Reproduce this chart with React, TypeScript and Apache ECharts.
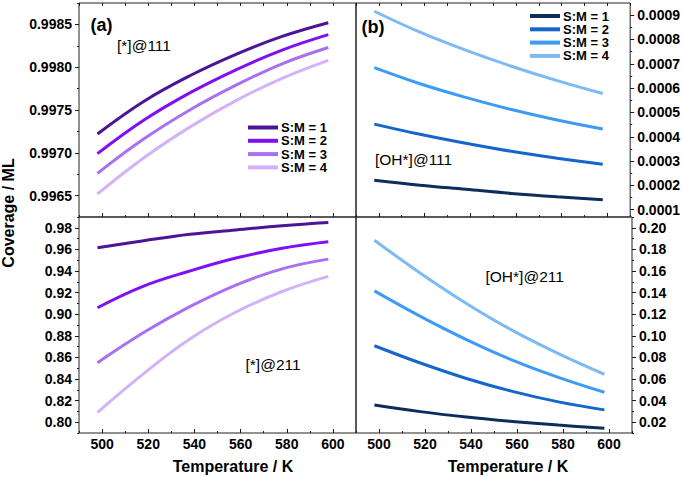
import React, { useEffect, useRef } from "react";
import * as echarts from "echarts";

const temps = [498, 518, 538, 558, 578, 598];
const seriesNames = ["S:M = 1", "S:M = 2", "S:M = 3", "S:M = 4"];

// (a) top: [*]@111
const star111 = [
  [0.99722, 0.9976, 0.9979, 0.99815, 0.99836, 0.99852],
  [0.99699, 0.99738, 0.9977, 0.99797, 0.9982, 0.99838],
  [0.99676, 0.99716, 0.9975, 0.99779, 0.99804, 0.99823],
  [0.99652, 0.99694, 0.9973, 0.99761, 0.99787, 0.99808],
];
// (a) bottom: [*]@211
const star211 = [
  [0.9615, 0.968, 0.974, 0.978, 0.982, 0.985],
  [0.906, 0.926, 0.94, 0.952, 0.961, 0.967],
  [0.855, 0.883, 0.907, 0.927, 0.942, 0.951],
  [0.809, 0.845, 0.877, 0.902, 0.921, 0.935],
];
// (b) top: [OH*]@111
const oh111 = [
  [0.000221, 0.000201, 0.000184, 0.000167, 0.000153, 0.000141],
  [0.000452, 0.00041, 0.000373, 0.00034, 0.000312, 0.000287],
  [0.000684, 0.000618, 0.000562, 0.000512, 0.000469, 0.000432],
  [0.000916, 0.00083, 0.000756, 0.00069, 0.000631, 0.000578],
];
// (b) bottom: [OH*]@211
const oh211 = [
  [0.036, 0.0298, 0.0248, 0.0207, 0.0173, 0.0145],
  [0.0908, 0.0748, 0.0605, 0.0485, 0.0388, 0.0314],
  [0.1416, 0.118, 0.0965, 0.0775, 0.0615, 0.0477],
  [0.1885, 0.158, 0.13, 0.105, 0.0835, 0.0644],
];

const purpleColors = ["#4B1596", "#7F0FF5", "#A970F2", "#D3B2F8"];
const blueColors = ["#0D2D5C", "#1466CC", "#3D9BF5", "#7DB9F2"];

const xMajorTicks = [500, 520, 540, 560, 580, 600];
const xMinorTicks = [490, 500, 510, 520, 530, 540, 550, 560, 570, 580, 590, 600, 610];

const yTLMajor = [0.9965, 0.997, 0.9975, 0.998, 0.9985];
const yTLMinor = [0.9965, 0.99675, 0.997, 0.99725, 0.9975, 0.99775, 0.998, 0.99825, 0.9985, 0.99875];
const yBLMajor = [0.8, 0.82, 0.84, 0.86, 0.88, 0.9, 0.92, 0.94, 0.96, 0.98];
const yBLMinor = [0.79, 0.8, 0.81, 0.82, 0.83, 0.84, 0.85, 0.86, 0.87, 0.88, 0.89, 0.9, 0.91, 0.92, 0.93, 0.94, 0.95, 0.96, 0.97, 0.98, 0.99];
const yTRMajor = [0.0001, 0.0002, 0.0003, 0.0004, 0.0005, 0.0006, 0.0007, 0.0008, 0.0009];
const yTRMinor = [0.0001, 0.00015, 0.0002, 0.00025, 0.0003, 0.00035, 0.0004, 0.00045, 0.0005, 0.00055, 0.0006, 0.00065, 0.0007, 0.00075, 0.0008, 0.00085, 0.0009];
const yBRMajor = [0.02, 0.04, 0.06, 0.08, 0.1, 0.12, 0.14, 0.16, 0.18, 0.2];
const yBRMinor = [0.01, 0.02, 0.03, 0.04, 0.05, 0.06, 0.07, 0.08, 0.09, 0.1, 0.11, 0.12, 0.13, 0.14, 0.15, 0.16, 0.17, 0.18, 0.19, 0.2, 0.21];

const FONT = "'Liberation Sans', Arial, sans-serif";
const INK = "#1a1a1a";

export default function App() {
  const ref = useRef<HTMLDivElement>(null);
  useEffect(() => {
    if (!ref.current) return;
    const chart = echarts.init(ref.current, null, { renderer: "svg" });

    const grids = [
      { left: 79, top: 3, width: 277, height: 214 },
      { left: 79, top: 217, width: 277, height: 216 },
      { left: 356, top: 3, width: 276, height: 214 },
      { left: 356, top: 217, width: 276, height: 216 },
    ].map((g) => ({ ...g, show: true, borderColor: "#222", borderWidth: 1, backgroundColor: "transparent" }));

    const yCfg = [
      { min: 0.99625, max: 0.99875, major: yTLMajor, minor: yTLMinor, pos: "left", dec: 4 },
      { min: 0.79, max: 0.99, major: yBLMajor, minor: yBLMinor, pos: "left", dec: 2 },
      { min: 0.00007, max: 0.00095, major: yTRMajor, minor: yTRMinor, pos: "right", dec: 4 },
      { min: 0.01, max: 0.21, major: yBRMajor, minor: yBRMinor, pos: "right", dec: 2 },
    ];

    const xAxes: any[] = [];
    const yAxes: any[] = [];
    for (let g = 0; g < 4; g++) {
      const isBottom = g === 1 || g === 3;
      xAxes.push({
        type: "value", gridIndex: g, min: 490, max: 610, position: "bottom",
        splitLine: { show: false }, axisLine: { show: false },
        axisTick: { show: true, inside: true, length: 4, customValues: xMajorTicks, lineStyle: { color: INK, width: 1 } },
        axisLabel: {
          show: isBottom, customValues: xMajorTicks, margin: 4,
          fontSize: 14, fontWeight: "bold", fontFamily: FONT, color: "#000",
        },
      });
    }
    for (let g = 0; g < 4; g++) {
      xAxes.push({
        type: "value", gridIndex: g, min: 490, max: 610, position: "bottom",
        splitLine: { show: false }, axisLine: { show: false }, axisLabel: { show: false },
        axisTick: { show: true, inside: true, length: 2, customValues: xMinorTicks, lineStyle: { color: INK, width: 1 } },
      });
    }
    for (const g of [0, 2]) {
      xAxes.push({
        type: "value", gridIndex: g, min: 490, max: 610, position: "top",
        splitLine: { show: false }, axisLine: { show: false }, axisLabel: { show: false },
        axisTick: { show: true, inside: true, length: 3, customValues: xMinorTicks, lineStyle: { color: INK, width: 1 } },
      });
    }
    for (let g = 0; g < 4; g++) {
      const c = yCfg[g];
      yAxes.push({
        type: "value", gridIndex: g, min: c.min, max: c.max, position: c.pos,
        splitLine: { show: false }, axisLine: { show: false },
        axisTick: { show: true, inside: false, length: 4, customValues: c.major, lineStyle: { color: INK, width: 1 } },
        axisLabel: {
          show: true, customValues: c.major, margin: 7,
          fontSize: 14, fontWeight: "bold", fontFamily: FONT, color: "#000",
          formatter: (v: number) => v.toFixed(c.dec),
        },
      });
    }
    for (let g = 0; g < 4; g++) {
      const c = yCfg[g];
      yAxes.push({
        type: "value", gridIndex: g, min: c.min, max: c.max, position: c.pos,
        splitLine: { show: false }, axisLine: { show: false }, axisLabel: { show: false },
        axisTick: { show: true, inside: false, length: 2, customValues: c.minor, lineStyle: { color: INK, width: 1 } },
      });
    }

    const panels = [
      { data: star111, colors: purpleColors, key: "a111" },
      { data: star211, colors: purpleColors, key: "a211" },
      { data: oh111, colors: blueColors, key: "b111" },
      { data: oh211, colors: blueColors, key: "b211" },
    ];
    const series: any[] = [];
    panels.forEach((p, g) => {
      p.data.forEach((vals, i) => {
        series.push({
          type: "line",
          name: p.key + "|" + i,
          xAxisIndex: g,
          yAxisIndex: g,
          data: temps.map((t, k) => [t, vals[k]]),
          smooth: 0.4,
          showSymbol: false,
          symbol: "none",
          lineStyle: { color: p.colors[i], width: 3 },
          itemStyle: { color: p.colors[i] },
          z: 10 - i,
        });
      });
    });

    const legendBase = {
      orient: "vertical",
      padding: 0,
      itemGap: 0.3,
      itemWidth: 30,
      itemHeight: 4,
      icon: "rect",
      selectedMode: false,
      formatter: (name: string) => seriesNames[Number(name.split("|")[1])],
      textStyle: { fontSize: 13, fontWeight: "bold", fontFamily: FONT, color: "#000", lineHeight: 13, padding: [0, 0, 0, -2] },
    };

    const txt = (text: string, x: number, y: number, size: number, bold: boolean, extra: any = {}) => ({
      type: "text",
      x, y,
      ...extra,
      style: {
        text,
        fontSize: size,
        fontWeight: bold ? "bold" : "normal",
        fontFamily: FONT,
        fill: "#000",
        textAlign: extra.align || "left",
        textVerticalAlign: "middle",
      },
    });

    chart.setOption({
      animation: false,
      grid: grids,
      xAxis: xAxes,
      yAxis: yAxes,
      series,
      legend: [
        { ...legendBase, left: 248, top: 121, data: [0, 1, 2, 3].map((i) => "a111|" + i) },
        { ...legendBase, left: 530, top: 9.5, data: [0, 1, 2, 3].map((i) => "b111|" + i) },
      ],
      graphic: [
        txt("(a)", 90.5, 25, 18, true),
        txt("[*]@111", 117, 45, 15.5, false),
        txt("(b)", 361.5, 27, 18, true),
        txt("[OH*]@111", 375, 159, 15.5, false),
        txt("[*]@211", 245.5, 364, 15.5, false),
        txt("[OH*]@211", 485.5, 276, 15.5, false),
        txt("Temperature / K", 233, 466, 16, true, { align: "center" }),
        txt("Temperature / K", 508, 466, 16, true, { align: "center" }),
        txt("Coverage / ML", 8, 213, 16, true, { align: "center", rotation: Math.PI / 2 }),
      ],
    });
    return () => chart.dispose();
  }, []);
  return (
    <div
      ref={ref}
      style={{ position: "fixed", left: 0, top: 0, width: 683, height: 477, background: "#fff" }}
    />
  );
}
